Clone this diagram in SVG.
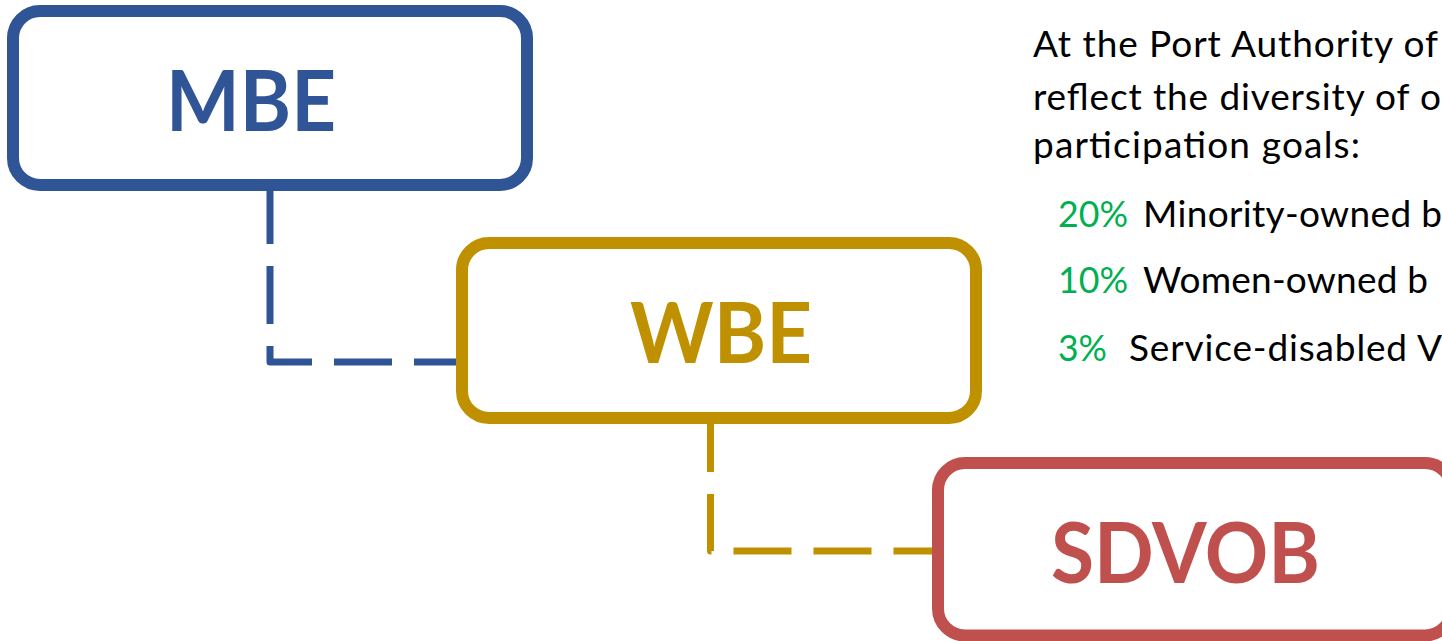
<svg xmlns="http://www.w3.org/2000/svg" width="1442" height="641" viewBox="0 0 1442 641">
  <style>
    .box { fill: #ffffff; stroke-width: 12; }
    .lbl { font-family: Lato, "Open Sans", sans-serif; font-weight: bold; font-size: 84px; }
    .conn { fill: none; stroke-width: 7; stroke-dasharray: 58 22; stroke-linejoin: round; }
    .body { font-family: Lato, "Open Sans", sans-serif; font-size: 37px; fill: #000000; }
    .pct { fill: #00B050; }
  </style>
  <rect width="1442" height="641" fill="#ffffff"/>
  <g id="connectors">
    <path class="conn" stroke="#2F5597" d="M270,186 V362 H462"/>
    <path class="conn" stroke="#BF9000" d="M710.5,414 V551 H938"/>
  </g>
  <g id="node-mbe">
    <rect class="box" stroke="#2F5597" x="13" y="11" width="514" height="174" rx="27"/>
    <text class="lbl" fill="#2F5597" x="166" y="131" textLength="170" lengthAdjust="spacingAndGlyphs">MBE</text>
  </g>
  <g id="node-wbe">
    <rect class="box" stroke="#BF9000" x="462" y="243" width="514" height="175" rx="27"/>
    <text class="lbl" fill="#BF9000" x="630" y="363" textLength="182" lengthAdjust="spacingAndGlyphs">WBE</text>
  </g>
  <g id="node-sdvob">
    <rect class="box" stroke="#C0504D" x="938" y="463" width="514" height="172.5" rx="27"/>
    <text class="lbl" fill="#C0504D" x="1051" y="583" textLength="269" lengthAdjust="spacingAndGlyphs">SDVOB</text>
  </g>
  <g id="description">
    <text class="body" x="1033" y="57" textLength="405" lengthAdjust="spacing">At the Port Authority of</text>
    <text class="body" x="1033" y="110" textLength="408" lengthAdjust="spacing">reflect the diversity of o</text>
    <text class="body" x="1033" y="158" textLength="327" lengthAdjust="spacing">participation goals:</text>
    <text class="body pct" x="1058" y="227" textLength="70" lengthAdjust="spacingAndGlyphs">20%</text>
    <text class="body" x="1143" y="227" textLength="299" lengthAdjust="spacing">Minority-owned b</text>
    <text class="body pct" x="1058" y="293" textLength="70" lengthAdjust="spacingAndGlyphs">10%</text>
    <text class="body" x="1143" y="293" textLength="285" lengthAdjust="spacing">Women-owned b</text>
    <text class="body pct" x="1058" y="361" textLength="49" lengthAdjust="spacingAndGlyphs">3%</text>
    <text class="body" x="1129" y="361" textLength="313" lengthAdjust="spacing">Service-disabled V</text>
  </g>
</svg>
